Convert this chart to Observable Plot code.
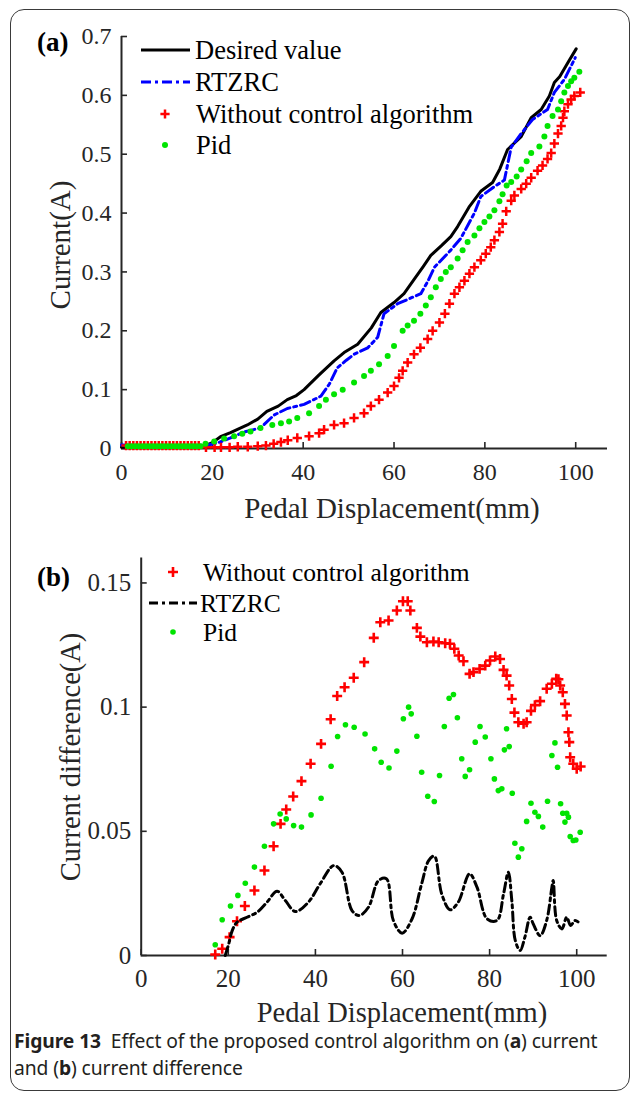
<!DOCTYPE html>
<html>
<head>
<meta charset="utf-8">
<script src="https://cdn.jsdelivr.net/npm/d3@7"></script>
<script src="https://cdn.jsdelivr.net/npm/@observablehq/plot@0.6"></script>
<style>
  body { margin: 0; background: #fff; }
  #fig { position: relative; width: 632px; height: 1096px; overflow: hidden; background: #fff; font-family: "Liberation Serif", serif; }
  .frame { position: absolute; left: 10px; top: 9px; width: 620px; height: 1082px; border: 1.5px solid #3a3a3a; border-radius: 14px; box-sizing: border-box; }
  .panel { position: absolute; left: 0; }
  .caption { position: absolute; left: 14px; top: 1027px; width: 615px; font-family: "Noto Sans", sans-serif; font-size: 19.3px; line-height: 27px; color: #231f20; letter-spacing: -0.1px; }
  .caption b { font-weight: 700; }
</style>
</head>
<body>
<div id="fig">
  <div class="frame"></div>
  <div id="pa" class="panel" style="top:0px"></div>
  <div id="pb" class="panel" style="top:520px"></div>
  <div class="caption"><b>Figure 13</b>&nbsp; Effect of the proposed control algorithm on (<b>a</b>) current<br>and (<b>b</b>) current difference</div>
</div>
<script>
// ---------- ticks ----------
const xTicks = [0, 20, 40, 60, 80, 100];
const xTickLabels = ["0", "20", "40", "60", "80", "100"];
const yTicksA = [0, 0.1, 0.2, 0.3, 0.4, 0.5, 0.6, 0.7];
const yTickLabelsA = ["0", "0.1", "0.2", "0.3", "0.4", "0.5", "0.6", "0.7"];
const yTicksB = [0, 0.05, 0.1, 0.15];
const yTickLabelsB = ["0", "0.05", "0.1", "0.15"];

// ---------- panel (a): current ----------
const desiredA = [[0,0.002],[5,0.002],[10,0.002],[15,0.002],[18,0.003],[20,0.01],[21.8,0.02],[24,0.027],[27.7,0.04],[30,0.05],[32,0.063],[34.5,0.072],[36.5,0.083],[38.5,0.09],[40.2,0.1],[43.5,0.125],[46.8,0.149],[49,0.163],[52,0.177],[55,0.205],[57.1,0.231],[60,0.248],[62.2,0.263],[64.5,0.288],[66.5,0.31],[68.1,0.328],[70.5,0.345],[72.5,0.36],[74,0.377],[76.5,0.41],[79.1,0.437],[81.7,0.452],[83.3,0.475],[85,0.508],[88,0.53],[90.2,0.562],[92.4,0.576],[94.2,0.599],[95.3,0.622],[96.5,0.632],[98.3,0.656],[100.1,0.679]];

const rtzrcA = [[0,0.006],[5,0.005],[10,0.005],[15,0.005],[19,0.006],[21,0.009],[24,0.018],[27,0.028],[30.6,0.035],[33.6,0.057],[36.5,0.068],[40.2,0.075],[43.9,0.089],[45.8,0.11],[47.5,0.137],[49.5,0.15],[51.2,0.16],[54.2,0.171],[56.4,0.189],[57.8,0.229],[60.8,0.246],[63.5,0.255],[65.9,0.263],[67.5,0.285],[68.9,0.308],[72.5,0.337],[74.7,0.357],[77.7,0.4],[79.1,0.428],[82.1,0.445],[84.3,0.456],[85.8,0.512],[88,0.535],[90.5,0.559],[93.8,0.576],[95.3,0.605],[97.5,0.627],[99.9,0.664]];

const noCtrlA = [[1.0,0.005],[1.8,0.005],[2.6,0.005],[3.4,0.005],[4.2,0.005],[5.0,0.005],[5.8,0.005],[6.6,0.005],[7.4,0.005],[8.2,0.005],[9.0,0.005],[9.8,0.005],[10.6,0.005],[11.4,0.005],[12.2,0.005],[13.0,0.005],[13.8,0.005],[14.6,0.005],[15.4,0.005],[16.2,0.005],[17.0,0.005],
  [18.6,0.002],[20.5,0.002],[21.9,0.002],[23.8,0.002],[25.6,0.003],[27.8,0.003],[30,0.004],[31.8,0.005],[33.5,0.008],[35.1,0.011],[36.6,0.014],[38.7,0.018],[41.3,0.021],[43.5,0.026],[44.6,0.032],[46.8,0.04],[49,0.043],[51.2,0.052],[53.4,0.06],[54.9,0.072],[56.7,0.083],[58.6,0.095],[60,0.106],[61.1,0.12],[61.9,0.132],[63,0.146],[64.4,0.16],[65.8,0.171],[67.4,0.186],[68.5,0.2],[70,0.214],[71.2,0.229],[72.2,0.246],[73.3,0.263],[74.4,0.274],[75.5,0.285],[76.6,0.297],[77.7,0.308],[79.1,0.32],[80.2,0.331],[81.3,0.342],[82.1,0.354],[83.2,0.368],[83.9,0.382],[84.7,0.403],[85.8,0.421],[86.5,0.43],[88,0.441],[89.1,0.45],[90.2,0.46],[91.6,0.472],[92.7,0.481],[93.8,0.492],[94.6,0.502],[95.3,0.518],[96.1,0.535],[96.8,0.548],[97.2,0.562],[97.5,0.573],[98.3,0.585],[99,0.593],[99.7,0.599],[101,0.605]];

const pidA = [[1.4,0.004],[2.2,0.004],[3.0,0.004],[3.8,0.004],[4.6,0.004],[5.4,0.004],[6.2,0.004],[7.0,0.004],[7.8,0.004],[8.6,0.004],[9.4,0.004],[10.2,0.004],[11.0,0.004],[11.8,0.004],[12.6,0.004],[13.4,0.004],[14.2,0.004],[15.0,0.004],[15.8,0.004],[16.6,0.004],[17.4,0.004],
  [18.5,0.008],[20.4,0.012],[22.6,0.017],[24.8,0.021],[26.6,0.025],[28.4,0.029],[30.6,0.035],[33.2,0.04],[35.1,0.043],[36.9,0.046],[38.7,0.052],[41.3,0.06],[43.5,0.072],[45,0.083],[46.8,0.092],[48.7,0.1],[51.2,0.112],[53.4,0.123],[54.9,0.132],[56.7,0.143],[58.6,0.157],[60,0.174],[61.9,0.2],[63,0.209],[64.4,0.217],[65.8,0.229],[67,0.243],[68.1,0.257],[69.2,0.274],[70.3,0.288],[71.4,0.3],[72.5,0.308],[74,0.323],[75.1,0.337],[76.2,0.351],[77.7,0.362],[78.8,0.374],[79.9,0.385],[81,0.394],[82.1,0.405],[83.2,0.42],[83.9,0.432],[84.8,0.447],[85.8,0.453],[87,0.462],[88,0.474],[89.2,0.488],[90.2,0.502],[92,0.513],[93.1,0.53],[93.8,0.548],[94.9,0.565],[96.1,0.576],[96.8,0.59],[97.5,0.605],[98.3,0.616],[99,0.624],[99.7,0.63],[100.8,0.64]];

// ---------- panel (b): current difference ----------
const noCtrlB = [[17.0,0.0004],[18.6,0.0027],[20.3,0.0074],[22.0,0.0138],[23.8,0.0199],[26.0,0.0262],[28.3,0.0342],[30.4,0.044],[32.0,0.053],[33.3,0.0588],[34.9,0.064],[36.8,0.0702],[38.9,0.0772],[41.3,0.0852],[43.5,0.0951],[45.0,0.1045],[46.7,0.108],[48.8,0.1118],[51.2,0.1181],[53.4,0.1279],[54.9,0.1342],[56.8,0.1349],[58.7,0.1389],[60.1,0.1426],[61.2,0.1426],[61.8,0.1389],[63.3,0.1319],[64.1,0.1284],[65.6,0.1261],[67.1,0.1264],[68.3,0.1261],[69.8,0.1257],[70.9,0.1255],[71.9,0.1235],[72.9,0.1208],[74.0,0.1185],[75.4,0.1134],[76.3,0.1141],[77.7,0.1154],[79.0,0.1167],[80.1,0.1188],[81.3,0.1204],[82.4,0.1194],[83.2,0.115],[83.9,0.1127],[84.5,0.1087],[85.1,0.1033],[85.7,0.0978],[86.6,0.0939],[87.8,0.0933],[88.5,0.0939],[89.5,0.0985],[90.4,0.1008],[91.6,0.1024],[93.1,0.1074],[94.3,0.1094],[95.3,0.1114],[95.8,0.1112],[96.2,0.1087],[96.8,0.106],[97.3,0.1013],[97.7,0.0966],[98.1,0.0899],[98.3,0.0859],[98.5,0.0798],[99.2,0.0772],[100.0,0.0752],[100.9,0.0761]];

const rtzrcB = [[19.3,0],[20.1,0.0047],[20.9,0.01],[22.0,0.0134],[24.3,0.0154],[26.6,0.0174],[28.9,0.0215],[31.2,0.0259],[33.1,0.0221],[35.4,0.0177],[38.4,0.0215],[41.1,0.0289],[44.2,0.0362],[46.1,0.0335],[48.4,0.0181],[50.1,0.0161],[52.2,0.0195],[54.5,0.0302],[56.3,0.0309],[57.9,0.0141],[59.9,0.009],[62.2,0.0148],[64.4,0.0289],[66.0,0.0382],[67.3,0.04],[69.0,0.0248],[70.9,0.0184],[72.8,0.0215],[75.4,0.0329],[77.1,0.0275],[79.4,0.0148],[81.7,0.0141],[83.2,0.0248],[84.3,0.0335],[85.1,0.0221],[85.9,0.006],[87.0,0.002],[88.1,0.0074],[89.3,0.0154],[90.0,0.0128],[91.6,0.008],[93.1,0.0141],[94.3,0.0275],[94.6,0.0302],[95.4,0.0141],[96.6,0.0107],[97.7,0.0154],[98.6,0.0121],[99.6,0.0141],[100.4,0.0134]];

const pidB = [[17.0,0.0043],[18.6,0.0144],[20.5,0.0199],[22.2,0.0242],[23.9,0.0291],[26.0,0.0356],[28.3,0.044],[30.4,0.053],[31.9,0.057],[33.3,0.055],[35.0,0.0523],[36.8,0.0517],[39.0,0.0566],[41.3,0.0633],[43.6,0.0762],[45.1,0.0882],[46.9,0.0929],[48.9,0.0919],[51.4,0.0892],[53.6,0.0832],[55.1,0.0778],[56.9,0.0755],[58.7,0.0823],[60.2,0.0953],[61.4,0.1],[62.0,0.0973],[63.3,0.0883],[64.4,0.0738],[65.8,0.0641],[67.3,0.062],[68.5,0.0725],[69.6,0.0922],[70.7,0.1036],[71.7,0.1051],[72.6,0.0957],[73.6,0.0792],[74.4,0.0721],[75.4,0.0748],[76.7,0.0859],[77.8,0.0922],[79.0,0.088],[80.3,0.0792],[81.1,0.0711],[82.0,0.0664],[82.8,0.0671],[83.4,0.0828],[83.9,0.0913],[84.5,0.0841],[85.2,0.0653],[85.8,0.0452],[86.6,0.0396],[87.4,0.043],[88.5,0.054],[89.5,0.0613],[90.4,0.0577],[91.2,0.056],[92.2,0.0517],[93.3,0.0621],[94.3,0.0805],[95.0,0.0856],[95.6,0.0758],[96.3,0.0611],[96.8,0.0573],[97.3,0.0537],[97.7,0.0573],[98.1,0.0557],[98.5,0.0479],[99.2,0.0463],[99.8,0.0465],[100.8,0.0496]];

// ---------- labels ----------
const legendA = ["Desired value", "RTZRC", "Without control algorithm", "Pid"];
const legendB = ["Without control algorithm", "RTZRC", "Pid"];
const xTitle = "Pedal Displacement(mm)";
const yTitleA = "Current(A)";
const yTitleB = "Current difference(A)";

const AX = "#262626";
const RED = "#ff0000", GREEN = "#00e400", BLUE = "#0000ff";
const X = d => d[0], Y = d => d[1];
const fmt = (ticks, labels) => d => labels[ticks.indexOf(d)];

const plotA = Plot.plot({
  width: 632, height: 530,
  marginLeft: 121, marginRight: 25, marginTop: 36, marginBottom: 82,
  x: {domain: [0, 107]},
  y: {domain: [0, 0.7]},
  style: {background: "transparent", color: AX, fontFamily: "Liberation Serif, serif", overflow: "visible"},
  marks: [
    Plot.axisX({ticks: xTicks, tickSize: -6, tickPadding: 20, tickFormat: fmt(xTicks, xTickLabels), fontSize: 24, label: null, strokeWidth: 1.6}),
    Plot.axisY({ticks: yTicksA, tickSize: -6, tickPadding: 16, tickFormat: fmt(yTicksA, yTickLabelsA), fontSize: 24, label: null, strokeWidth: 1.6}),
    Plot.ruleX([0], {stroke: AX, strokeWidth: 2}),
    Plot.ruleY([0], {stroke: AX, strokeWidth: 2}),
    Plot.line(desiredA, {x: X, y: Y, stroke: "#000", strokeWidth: 3}),
    Plot.line(rtzrcA, {x: X, y: Y, stroke: BLUE, strokeWidth: 3, strokeDasharray: "10,4,3,4"}),
    Plot.dot(noCtrlA, {x: X, y: Y, symbol: "plus", r: 3.1, stroke: RED, strokeWidth: 2.5}),
    Plot.dot(pidA, {x: X, y: Y, r: 3.0, fill: GREEN, stroke: "none"})
  ]
});
document.getElementById("pa").appendChild(plotA);

const plotB = Plot.plot({
  width: 632, height: 517,
  marginLeft: 140.7, marginRight: 25.3, marginTop: 37.6, marginBottom: 82,
  x: {domain: [0, 107]},
  y: {domain: [0, 0.16]},
  style: {background: "transparent", color: AX, fontFamily: "Liberation Serif, serif", overflow: "visible"},
  marks: [
    Plot.axisX({ticks: xTicks, tickSize: -6, tickPadding: 20, tickFormat: fmt(xTicks, xTickLabels), fontSize: 25, label: null, strokeWidth: 1.6}),
    Plot.axisY({ticks: yTicksB, tickSize: -6, tickPadding: 16, tickFormat: fmt(yTicksB, yTickLabelsB), fontSize: 25, label: null, strokeWidth: 1.6}),
    Plot.ruleX([0], {stroke: AX, strokeWidth: 2}),
    Plot.ruleY([0], {stroke: AX, strokeWidth: 2}),
    Plot.dot(noCtrlB, {x: X, y: Y, symbol: "plus", r: 3.3, stroke: RED, strokeWidth: 2.6}),
    Plot.line(rtzrcB, {x: X, y: Y, curve: "catmull-rom", stroke: "#000", strokeWidth: 3, strokeDasharray: "9,4,3,4"}),
    Plot.dot(pidB, {x: X, y: Y, r: 2.8, fill: GREEN, stroke: "none"})
  ]
});
document.getElementById("pb").appendChild(plotB);

// ---------- overlay: titles, legends ----------
const ov = d3.select("#fig").append("svg")
  .attr("width", 632).attr("height", 1096)
  .style("position", "absolute").style("left", 0).style("top", 0)
  .style("pointer-events", "none")
  .style("font-family", "Liberation Serif, serif");

function txt(x, y, s, size, opts = {}) {
  const t = ov.append("text").attr("x", x).attr("y", y).text(s)
    .attr("font-size", size).attr("fill", opts.fill || "#000")
    .attr("dominant-baseline", "central")
    .attr("text-anchor", opts.anchor || "start");
  if (opts.bold) t.attr("font-weight", "bold");
  if (opts.rotate) t.attr("transform", `rotate(-90 ${x} ${y})`);
  return t;
}
function plus(x, y, h, color, sw) {
  ov.append("path").attr("d", `M${x - h},${y}H${x + h}M${x},${y - h}V${y + h}`)
    .attr("stroke", color).attr("stroke-width", sw).attr("fill", "none");
}

// panel labels
txt(37, 42, "(a)", 27, {bold: true});
txt(37, 577, "(b)", 27, {bold: true});

// axis titles
txt(392, 508, xTitle, 29, {anchor: "middle", fill: "#262626"});
txt(60, 245, yTitleA, 29, {anchor: "middle", rotate: true, fill: "#262626"});
txt(402, 1012, xTitle, 28.5, {anchor: "middle", fill: "#262626"});
txt(70, 757, yTitleB, 28.5, {anchor: "middle", rotate: true, fill: "#262626"});

// legend (a)
ov.append("line").attr("x1", 141).attr("x2", 190).attr("y1", 50).attr("y2", 50).attr("stroke", "#000").attr("stroke-width", 3);
txt(195, 50, legendA[0], 26.5);
ov.append("line").attr("x1", 141).attr("x2", 190).attr("y1", 82).attr("y2", 82).attr("stroke", BLUE).attr("stroke-width", 3).attr("stroke-dasharray", "10,4,3,4");
txt(195, 82, legendA[1], 26.5);
plus(165, 114, 4.6, RED, 2.5);
txt(196, 114, legendA[2], 26.5);
ov.append("circle").attr("cx", 165).attr("cy", 145).attr("r", 3.0).attr("fill", GREEN);
txt(196, 145, legendA[3], 26.5);

// legend (b)
plus(173, 572, 5, RED, 2.6);
txt(203, 572, legendB[0], 25.5);
ov.append("line").attr("x1", 149).attr("x2", 197).attr("y1", 603).attr("y2", 603).attr("stroke", "#000").attr("stroke-width", 3).attr("stroke-dasharray", "9,4,3,4");
txt(200, 603, legendB[1], 25.5);
ov.append("circle").attr("cx", 173).attr("cy", 632).attr("r", 2.8).attr("fill", GREEN);
txt(203, 632, legendB[2], 25.5);
</script>
</body>
</html>
